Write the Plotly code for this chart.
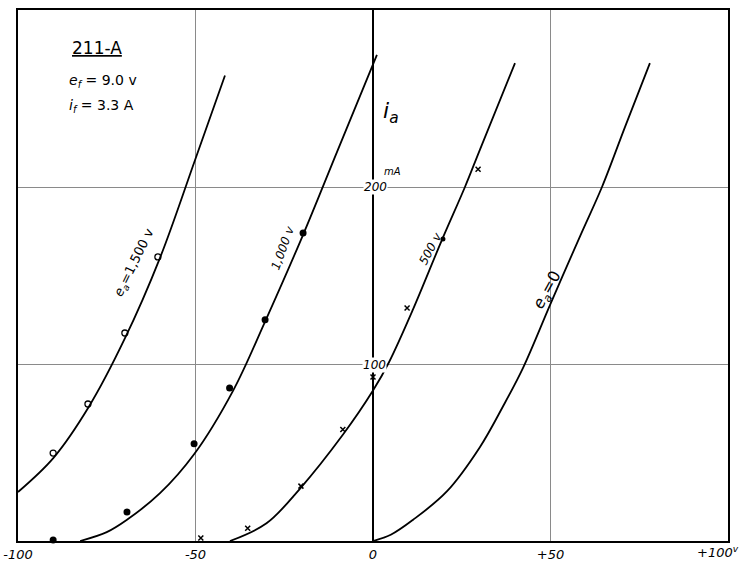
import plotly.graph_objects as go

# ---- data (grid voltage e_g in V, plate current i_a in mA) ----
curve_1500_eg = [-100, -90, -80, -70, -60, -50, -41.7]
curve_1500_ia = [27.7, 47, 76, 114, 160, 216, 263]

curve_1000_eg = [-82.5, -75, -69.3, -60, -50.4, -39.4, -30.4, -19.7, -10.1, 1.1]
curve_1000_ia = [0, 5, 12, 27, 49, 85, 124, 173, 220, 274.6]

curve_500_eg = [-40.3, -30, -20.6, -8.5, 0, 4.5, 11.3, 19.4, 25.9, 30.1, 40]
curve_500_ia = [0, 10, 29.5, 60, 85, 101, 131, 170, 200, 221, 270]

curve_0_eg = [0, 5, 11.3, 20.8, 30.1, 36.6, 42.3, 50, 58.5, 64.5, 71, 78]
curve_0_ia = [0, 3.5, 12, 28, 53, 76, 98, 134, 173, 200, 234, 270]

pts_1500_eg = [-90.1, -80.3, -69.9, -60.6]
pts_1500_ia = [49.7, 77.4, 117.5, 160.5]

pts_1000_eg = [-90.1, -69.3, -50.4, -40.4, -30.4, -19.7]
pts_1000_ia = [0.6, 16.4, 55, 86.4, 125, 174]

pts_500_eg = [-48.5, -35.3, -20.3, -8.5, 0, 9.6, 29.6]
pts_500_ia = [1.7, 7.2, 31, 63, 92.7, 131.6, 210]
pts_500_dot_eg = [19.7]
pts_500_dot_ia = [170.6]

x_tick_vals = [-100, -50, 0, 50]
x_tick_text = ["-100", "-50", "0", "+50"]
x_end_label = "+100<sup>v</sup>"
y_grid_vals = [100, 200]

FONT = "DejaVu Sans"

fig = go.Figure()

line_style = dict(color="black", width=1.8, shape="spline", smoothing=1.0)
for ex, iy in [(curve_1500_eg, curve_1500_ia), (curve_1000_eg, curve_1000_ia),
               (curve_500_eg, curve_500_ia), (curve_0_eg, curve_0_ia)]:
    fig.add_trace(go.Scatter(x=ex, y=iy, mode="lines", line=line_style,
                             hoverinfo="skip", showlegend=False))

fig.add_trace(go.Scatter(x=pts_1500_eg, y=pts_1500_ia, mode="markers",
                         marker=dict(symbol="circle-open", size=6, color="black",
                                     line=dict(width=1.3)), showlegend=False))
fig.add_trace(go.Scatter(x=pts_1000_eg, y=pts_1000_ia, mode="markers",
                         marker=dict(symbol="circle", size=7, color="black"),
                         showlegend=False, cliponaxis=False))
fig.add_trace(go.Scatter(x=pts_500_eg, y=pts_500_ia, mode="markers",
                         marker=dict(symbol="x-thin-open", size=5, color="black",
                                     line=dict(width=1.5, color="black")),
                         showlegend=False, cliponaxis=False))
fig.add_trace(go.Scatter(x=pts_500_dot_eg, y=pts_500_dot_ia, mode="markers",
                         marker=dict(symbol="circle", size=5, color="black"),
                         showlegend=False))

fig.update_xaxes(range=[-100, 100], tickvals=x_tick_vals, ticktext=x_tick_text,
                 automargin=False,
                 showgrid=True, gridcolor="#8a8a8a", gridwidth=1,
                 zeroline=True, zerolinecolor="black", zerolinewidth=1.6,
                 showline=True, linecolor="black", linewidth=2, mirror=True,
                 ticks="", ticklabelstandoff=0,
                 tickfont=dict(family=FONT, size=13, color="black", style="italic"))
fig.update_yaxes(range=[0, 300], tickvals=y_grid_vals, showticklabels=False,
                 automargin=False,
                 showgrid=True, gridcolor="#8a8a8a", gridwidth=1,
                 zeroline=False,
                 showline=True, linecolor="black", linewidth=2, mirror=True, ticks="")

ann = []
def A(x, y, text, size=12, angle=0, xanchor="center", bg=None, style="normal", **kw):
    d = dict(x=x, y=y, text=text, showarrow=False, textangle=angle, xanchor=xanchor,
             font=dict(family=FONT, size=size, color="black", style=style))
    if bg:
        d["bgcolor"] = bg
    d.update(kw)
    ann.append(d)

A(-85.4, 278.5, "<u>211-A</u>", size=17, xanchor="left")
A(-86.2, 260, "<i>e<sub>f</sub></i> = 9.0 v", size=14, xanchor="left")
A(-86.2, 246, "<i>i<sub>f</sub></i> = 3.3 A", size=14, xanchor="left")
A(5.1, 242, "<i>i<sub>a</sub></i>", size=22)
A(5.4, 209, "mA", size=10, style="italic")
A(0.6, 200, "200", size=12, bg="white", style="italic", borderpad=0)
A(0.3, 99.4, "100", size=12, bg="white", style="italic", borderpad=0)
A(80.6, -8, "<i>e<sub>g</sub></i>", size=17)
A(100, 0, x_end_label, size=13, style="italic", xanchor="right", yanchor="top",
  xshift=13, yshift=-1)
A(-67.2, 157.6, "<i>e<sub>a</sub></i>=1,500 v", size=13, angle=-64)
A(-25.4, 165.5, "1,000 v", size=12, angle=-70, style="italic")
A(16.3, 165.5, "500 v", size=12, angle=-62, style="italic")
A(49, 141.8, "<i>e<sub>a</sub></i>=0", size=16, angle=-61)

fig.update_layout(width=741, height=563, annotations=ann,
                  margin=dict(l=18, r=13, t=10, b=22),
                  paper_bgcolor="white", plot_bgcolor="white", showlegend=False)

fig.write_html("out.html", config={"displayModeBar": False},
               post_script="document.body.style.margin='0';document.body.style.padding='0';")
